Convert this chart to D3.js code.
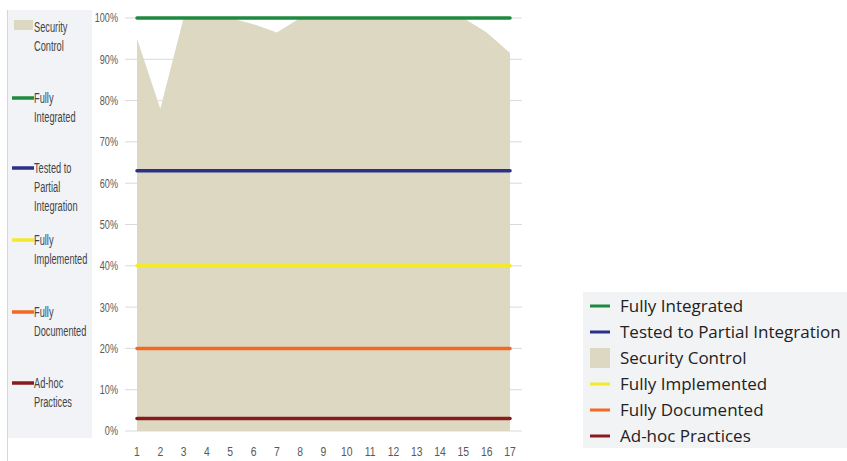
<!DOCTYPE html>
<html><head><meta charset="utf-8">
<script src="https://cdn.jsdelivr.net/npm/d3@7"></script>
<style>
html,body{margin:0;padding:0;background:#fff;}
svg{display:block;}
</style></head>
<body>
<svg id="chart" width="847" height="461"></svg>
<script>
const categories = [1,2,3,4,5,6,7,8,9,10,11,12,13,14,15,16,17];
const securityControl = [0.95,0.78,1,1,1,0.985,0.965,1,1,1,1,1,1,1,1,0.965,0.915];
const levels = [
  {name:"Fully Integrated", value:1.00, color:"#1f8a3f"},
  {name:"Tested to Partial Integration", value:0.63, color:"#2b3088"},
  {name:"Fully Implemented", value:0.40, color:"#f3ea2a"},
  {name:"Fully Documented", value:0.20, color:"#f26a22"},
  {name:"Ad-hoc Practices", value:0.03, color:"#8a1a1c"}
];
const yTicks = [0,0.1,0.2,0.3,0.4,0.5,0.6,0.7,0.8,0.9,1.0];
const areaName = "Security Control";
const areaColor = "#dcd8c1";
const leftLegend = [
  {key:"Security Control", lines:["Security","Control"], type:"area"},
  {key:"Fully Integrated", lines:["Fully","Integrated"], type:"line"},
  {key:"Tested to Partial Integration", lines:["Tested to","Partial","Integration"], type:"line"},
  {key:"Fully Implemented", lines:["Fully","Implemented"], type:"line"},
  {key:"Fully Documented", lines:["Fully","Documented"], type:"line"},
  {key:"Ad-hoc Practices", lines:["Ad-hoc","Practices"], type:"line"}
];
const rightLegendOrder = ["Fully Integrated","Tested to Partial Integration","Security Control","Fully Implemented","Fully Documented","Ad-hoc Practices"];

const svg = d3.select("#chart");
const colorOf = k => k===areaName ? areaColor : levels.find(l=>l.name===k).color;

const x = d3.scaleLinear().domain([1,17]).range([137,510]);
const y = d3.scaleLinear().domain([0,1]).range([431,18]);

const narrow = "'Liberation Sans Narrow','Arial Narrow',sans-serif";

// left legend panel
svg.append("line").attr("x1",7.5).attr("x2",7.5).attr("y1",10).attr("y2",461)
  .attr("stroke","#d6d6d6").attr("stroke-width",1);
svg.append("rect").attr("x",8).attr("y",10).attr("width",84).attr("height",428).attr("fill","#f1f3f6");

const llY = [27,98,168,240,312,383];
leftLegend.forEach((d,i)=>{
  const g = svg.append("g");
  const yy = llY[i];
  if(d.type==="area"){
    g.append("rect").attr("x",14).attr("y",yy-7).attr("width",19).attr("height",10).attr("fill",areaColor);
  } else {
    g.append("line").attr("x1",12).attr("x2",34).attr("y1",yy).attr("y2",yy)
      .attr("stroke",colorOf(d.key)).attr("stroke-width",3.5);
  }
  d.lines.forEach((t,j)=>{
    g.append("text").attr("x",34).attr("y",yy + j*19 + 5)
      .attr("font-family",narrow).attr("font-size",14).attr("fill","#444")
      .attr("transform",`translate(${34},0) scale(0.66,1) translate(${-34},0)`)
      .text(t);
  });
});

// gridlines
svg.append("g").selectAll("line").data(yTicks).join("line")
  .attr("x1",125).attr("x2",522).attr("y1",d=>y(d)).attr("y2",d=>y(d))
  .attr("stroke","#d9d9d9").attr("stroke-width",1);

// y axis labels
svg.append("g").selectAll("text").data(yTicks).join("text")
  .attr("x",118).attr("y",d=>y(d)+4.5)
  .attr("text-anchor","end").attr("font-family",narrow).attr("font-size",13).attr("fill","#595959")
  .attr("transform",`translate(118,0) scale(0.7,1) translate(-118,0)`)
  .text(d=>d3.format(".0%")(d));

// area
const area = d3.area().x((d,i)=>x(categories[i])).y0(y(0)).y1(d=>y(d));
svg.append("path").datum(securityControl).attr("d",area).attr("fill",areaColor);

// level lines
const line = d3.line().x(d=>x(d[0])).y(d=>y(d[1]));
levels.forEach(l=>{
  svg.append("path").datum(categories.map(c=>[c,l.value])).attr("d",line)
    .attr("fill","none").attr("stroke",l.color).attr("stroke-width",3.5).attr("stroke-linecap","round");
});

// x labels
svg.append("g").selectAll("text").data(categories).join("text")
  .attr("x",d=>x(d)).attr("y",456).attr("text-anchor","middle")
  .attr("font-family",narrow).attr("font-size",13).attr("fill","#595959")
  .attr("transform",d=>`translate(${x(d)},0) scale(0.8,1) translate(${-x(d)},0)`)
  .text(d=>d);

// right legend
svg.append("rect").attr("x",583).attr("y",292).attr("width",264).attr("height",156).attr("fill","#f2f3f5");
rightLegendOrder.forEach((k,i)=>{
  const yy = 306 + i*26;
  if(k===areaName){
    svg.append("rect").attr("x",590).attr("y",yy-10).attr("width",20).attr("height",20).attr("fill",areaColor);
  } else {
    svg.append("line").attr("x1",590).attr("x2",610).attr("y1",yy).attr("y2",yy)
      .attr("stroke",colorOf(k)).attr("stroke-width",3);
  }
  svg.append("text").attr("x",620).attr("y",yy+6).attr("font-family","'Open Sans',sans-serif")
    .attr("font-size",17).attr("fill","#222")
    .text(k);
});
</script>
</body></html>
